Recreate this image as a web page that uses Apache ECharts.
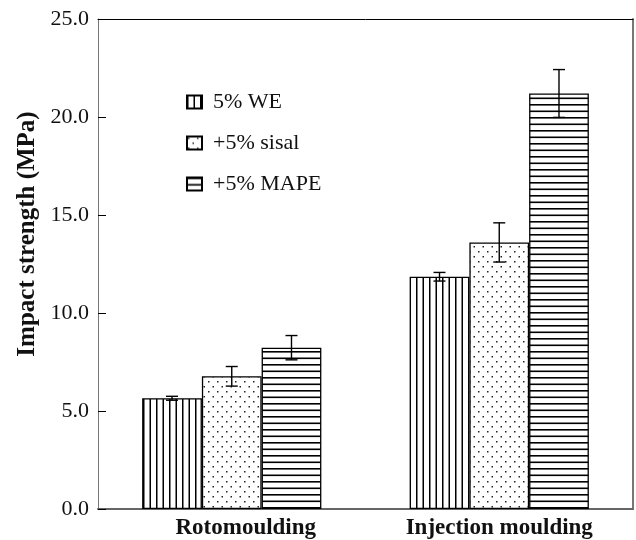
<!DOCTYPE html>
<html>
<head>
<meta charset="utf-8">
<script src="https://cdn.jsdelivr.net/npm/echarts@6/dist/echarts.min.js"></script>
<style>
  html, body { margin: 0; padding: 0; background: #fff; }
  #chart { width: 636px; height: 540px; }
</style>
</head>
<body>
<div id="chart"></div>
<script>
// data
var categories = ['Rotomoulding', 'Injection moulding'];
var seriesNames = ['5% WE', '+5% sisal', '+5% MAPE'];
var weValues = [5.65, 11.85];
var weErrors = [0.1, 0.22];
var sisalValues = [6.77, 13.6];
var sisalErrors = [0.5, 1.0];
var mapeValues = [8.23, 21.2];
var mapeErrors = [0.62, 1.22];
var yTicks = [0, 5, 10, 15, 20, 25];

var FONT = '"Liberation Serif", "Times New Roman", serif';
var catGap = 0.33;

// fill patterns
function makePattern(w, h, draw) {
  var c = document.createElement('canvas');
  c.width = w; c.height = h;
  var ctx = c.getContext('2d');
  ctx.fillStyle = '#fff';
  ctx.fillRect(0, 0, w, h);
  ctx.fillStyle = '#000';
  draw(ctx);
  return { image: c, repeat: 'repeat' };
}
var vertLines = makePattern(13, 4, function (ctx) {
  ctx.fillRect(0, 0, 1.5, 4);
  ctx.fillRect(6.5, 0, 1.5, 4);
});
var dots = makePattern(9, 10, function (ctx) {
  ctx.fillStyle = '#222';
  ctx.fillRect(1, 1, 1.5, 1.5);
  ctx.fillRect(5.5, 6, 1.5, 1.5);
});
var horzLines = makePattern(4, 13, function (ctx) {
  ctx.fillRect(0, 0, 4, 1.6);
  ctx.fillRect(0, 6.5, 4, 1.6);
});
var patterns = [vertLines, dots, horzLines];
var allValues = [weValues, sisalValues, mapeValues];
var allErrors = [weErrors, sisalErrors, mapeErrors];

var barSeries = seriesNames.map(function (name, i) {
  return {
    name: name,
    type: 'bar',
    barGap: '0%',
    barCategoryGap: (catGap * 100) + '%',
    data: allValues[i],
    itemStyle: { color: patterns[i], borderColor: '#000', borderWidth: 1.3 },
    emphasis: { disabled: true }
  };
});

var errData = [];
categories.forEach(function (c, ci) {
  for (var s = 0; s < 3; s++) {
    errData.push([ci, allValues[s][ci], allErrors[s][ci], s]);
  }
});

var errSeries = {
  type: 'custom',
  name: 'err',
  z: 5,
  data: errData,
  encode: { x: 0, y: 1 },
  renderItem: function (params, api) {
    var ci = api.value(0), v = api.value(1), e = api.value(2), s = api.value(3);
    var band = api.size([1, 0])[0];
    var barW = band * (1 - catGap) / 3;
    var x = api.coord([ci, v])[0] + (s - 1) * barW;
    var yTop = api.coord([ci, v + e])[1];
    var yBot = api.coord([ci, v - e])[1];
    var half = 6;
    var st = { stroke: '#000', lineWidth: 1.4 };
    return {
      type: 'group',
      children: [
        { type: 'line', shape: { x1: x, y1: yTop, x2: x, y2: yBot }, style: st },
        { type: 'line', shape: { x1: x - half, y1: yTop, x2: x + half, y2: yTop }, style: st },
        { type: 'line', shape: { x1: x - half, y1: yBot, x2: x + half, y2: yBot }, style: st }
      ]
    };
  }
};

var chart = echarts.init(document.getElementById('chart'), null, { renderer: 'canvas' });
chart.setOption({
  animation: false,
  backgroundColor: '#fff',
  grid: { left: 98, top: 19, right: 3, bottom: 29 },
  legend: {
    data: seriesNames,
    orient: 'vertical',
    left: 181,
    top: 86,
    icon: 'rect',
    itemWidth: 15,
    itemHeight: 13,
    itemGap: 19,
    selectedMode: false,
    textStyle: { fontFamily: FONT, fontSize: 22, color: '#111', padding: [0, 0, 0, 6] }
  },
  xAxis: [{
    type: 'category',
    data: categories,
    axisLine: { lineStyle: { color: '#666', width: 2 } },
    axisTick: { inside: true, length: 9, lineStyle: { color: '#000', width: 2 } },
    axisLabel: {
      margin: 8,
      formatter: function (v) { return v === categories[0] ? '{r|' + v + '}' : '{c|' + v + '}'; },
      rich: {
        r: { fontFamily: FONT, fontSize: 23, fontWeight: 'bold', color: '#111', padding: [0, 0, 0, 28] },
        c: { fontFamily: FONT, fontSize: 23, fontWeight: 'bold', color: '#111' }
      }
    }
  }, {
    type: 'category',
    position: 'top',
    data: categories,
    axisLine: { onZero: false, lineStyle: { color: '#000', width: 1 } },
    axisTick: { show: false },
    axisLabel: { show: false }
  }],
  yAxis: [{
    type: 'value',
    min: yTicks[0],
    max: yTicks[yTicks.length - 1],
    interval: 5,
    name: 'Impact strength (MPa)',
    nameLocation: 'middle',
    nameGap: 58,
    nameTextStyle: { fontFamily: FONT, fontSize: 25, fontWeight: 'bold', color: '#111', padding: [0, 0, 0, 60] },
    axisLine: { show: true, lineStyle: { color: '#777', width: 1 } },
    axisTick: { show: true, inside: true, length: 8, lineStyle: { color: '#000', width: 1 } },
    splitLine: { show: false },
    axisLabel: {
      margin: 9,
      fontFamily: FONT, fontSize: 22, color: '#111',
      formatter: function (v) { return v.toFixed(1); }
    }
  }, {
    type: 'value',
    position: 'right',
    min: yTicks[0],
    max: yTicks[yTicks.length - 1],
    axisLine: { show: true, lineStyle: { color: '#777', width: 2 } },
    axisTick: { show: false },
    axisLabel: { show: false },
    splitLine: { show: false }
  }],
  series: barSeries.concat([errSeries])
});
</script>
</body>
</html>
